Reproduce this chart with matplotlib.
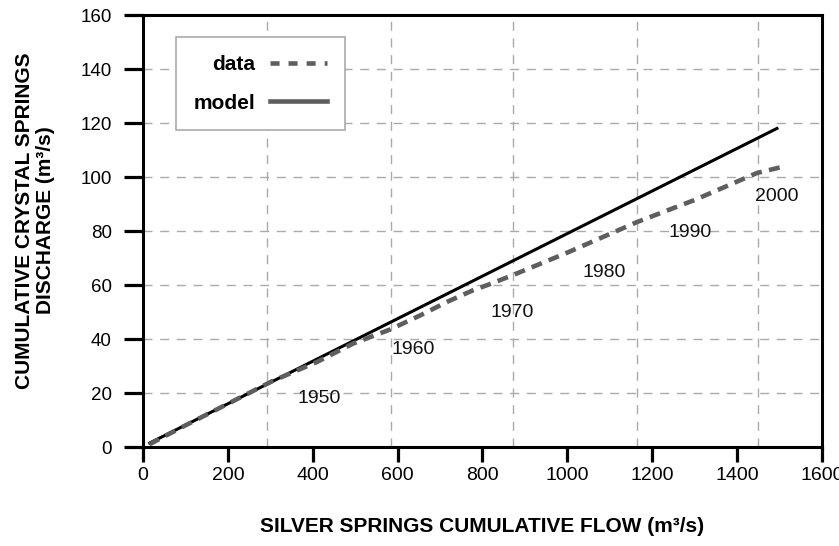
import matplotlib
matplotlib.use("Agg")
import matplotlib.pyplot as plt
from matplotlib.lines import Line2D

plt.rcParams['font.family'] = ['Liberation Sans', 'DejaVu Sans']

# data
data_x = [15, 100, 200, 306, 410, 495, 582, 650, 720, 777, 817, 869,
          1000, 1164, 1300, 1447, 1505]
data_y = [1.0, 8.0, 16.0, 24.5, 31.5, 38.3, 43.5, 48.5, 54.0, 58.0, 60.3,
          63.5, 72.0, 83.3, 91.5, 101.5, 103.7]

model_x = [16, 1494]
model_y = [1.5, 118.0]

years = ['1950', '1960', '1970', '1980', '1990', '2000']
year_x = [415, 636, 869, 1088, 1289, 1494]
year_y = [18.1, 36.3, 50.0, 64.8, 79.3, 92.9]

xticks = [0, 200, 400, 600, 800, 1000, 1200, 1400, 1600]
yticks = [0, 20, 40, 60, 80, 100, 120, 140, 160]
grid_x = [292, 584, 873, 1164, 1449]
grid_y = [20, 40, 60, 80, 100, 120, 140]

fig = plt.figure(figsize=(8.39, 5.46), dpi=100)
ax = fig.add_axes([0.1704, 0.1813, 0.8093, 0.7912])

# grid (the vertical lines do not sit on the ticks)
for gx in grid_x:
    ax.axvline(gx, color='#aaaaaa', lw=1, dashes=(6.5, 5.5), zorder=1)
for gy in grid_y:
    ax.axhline(gy, color='#aaaaaa', lw=1, dashes=(6.5, 5.5), zorder=1)

ax.plot(model_x, model_y, color='black', lw=2.2, zorder=3)
ax.plot(data_x, data_y, color='#5e5e5e', lw=3.3,
        linestyle=(0, (2.4, 1.6)), zorder=4)

for t, x, y in zip(years, year_x, year_y):
    ax.text(x, y, t, ha='center', va='center', fontsize=14, color='#111111')

ax.set_xlim(0, 1600)
ax.set_ylim(0, 160)
ax.set_xticks(xticks)
ax.set_yticks(yticks)
ax.tick_params(axis='x', direction='out', length=11, width=2.3,
               pad=3.5, labelsize=14)
ax.tick_params(axis='y', direction='out', length=13.5, width=2.3,
               pad=9, labelsize=13.5)
for s in ax.spines.values():
    s.set_linewidth(2.2)
    s.set_color('black')

handles = [Line2D([], [], color='#5e5e5e', lw=3.3, linestyle=(0, (1.97, 1.97))),
           Line2D([], [], color='#5e5e5e', lw=3.3)]
leg = ax.legend(handles, ['data', 'model'], loc='upper left',
                bbox_to_anchor=(0.048, 0.9485), markerfirst=False,
                fancybox=False, framealpha=1, edgecolor='#aaaaaa',
                handlelength=2.75, handletextpad=0.72, labelspacing=0.95,
                borderpad=0.85, borderaxespad=0,
                prop={'weight': 'bold', 'size': 15})
leg.get_frame().set_linewidth(1.2)
leg.set_zorder(5)

ax.set_xlabel('SILVER SPRINGS CUMULATIVE FLOW (m³/s)',
              fontsize=15, fontweight='bold', labelpad=24)
ax.set_ylabel('CUMULATIVE CRYSTAL SPRINGS\nDISCHARGE (m³/s)',
              fontsize=15, fontweight='bold', linespacing=1.15)
ax.yaxis.set_label_coords(-0.129, 0.525)

fig.savefig('out.png', dpi=100)
